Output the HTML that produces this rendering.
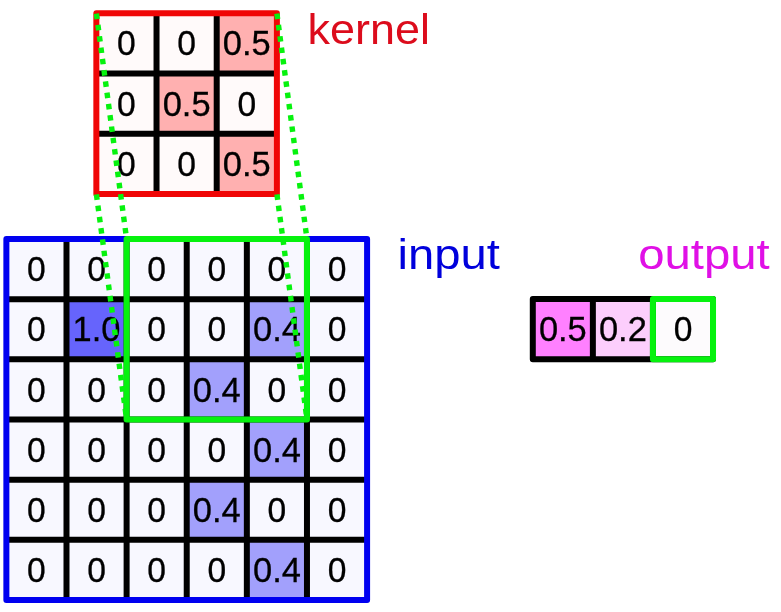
<!DOCTYPE html>
<html><head><meta charset="utf-8"><style>
html,body{margin:0;padding:0;background:#fff;width:781px;height:612px;overflow:hidden}
svg{display:block;will-change:transform}
text{font-family:"Liberation Sans",sans-serif;}
g text{stroke:#000;stroke-width:0.3px}
</style></head><body>
<svg width="781" height="612" viewBox="0 0 781 612">
<rect width="781" height="612" fill="#fff"/>
<g font-size="35" text-anchor="middle" fill="#000">
<rect x="96.35" y="13.30" width="60.18" height="60.22" fill="#fffafa"/>
<rect x="156.53" y="13.30" width="60.18" height="60.22" fill="#fffafa"/>
<rect x="216.71" y="13.30" width="60.18" height="60.22" fill="#ffb0b0"/>
<rect x="96.35" y="73.52" width="60.18" height="60.22" fill="#fffafa"/>
<rect x="156.53" y="73.52" width="60.18" height="60.22" fill="#ffb0b0"/>
<rect x="216.71" y="73.52" width="60.18" height="60.22" fill="#fffafa"/>
<rect x="96.35" y="133.74" width="60.18" height="60.22" fill="#fffafa"/>
<rect x="156.53" y="133.74" width="60.18" height="60.22" fill="#fffafa"/>
<rect x="216.71" y="133.74" width="60.18" height="60.22" fill="#ffb0b0"/>
<text transform="translate(126.44,55.48) scale(0.96,1)">0</text>
<text transform="translate(186.62,55.48) scale(0.96,1)">0</text>
<text transform="translate(246.80,55.48) scale(0.985,1)">0.5</text>
<text transform="translate(126.44,115.70) scale(0.96,1)">0</text>
<text transform="translate(186.62,115.70) scale(0.985,1)">0.5</text>
<text transform="translate(246.80,115.70) scale(0.96,1)">0</text>
<text transform="translate(126.44,175.93) scale(0.96,1)">0</text>
<text transform="translate(186.62,175.93) scale(0.96,1)">0</text>
<text transform="translate(246.80,175.93) scale(0.985,1)">0.5</text>
<line x1="156.53" y1="13.30" x2="156.53" y2="193.96" stroke="#000" stroke-width="6"/>
<line x1="216.71" y1="13.30" x2="216.71" y2="193.96" stroke="#000" stroke-width="6"/>
<line x1="96.35" y1="73.52" x2="276.89" y2="73.52" stroke="#000" stroke-width="6"/>
<line x1="96.35" y1="133.74" x2="276.89" y2="133.74" stroke="#000" stroke-width="6"/>
<rect x="96.35" y="13.30" width="180.54" height="180.66" fill="none" stroke="#f00606" stroke-width="6" stroke-linejoin="round"/>
<rect x="6.37" y="239.04" width="60.12" height="60.16" fill="#f8f8ff"/>
<rect x="66.49" y="239.04" width="60.12" height="60.16" fill="#f8f8ff"/>
<rect x="126.61" y="239.04" width="60.12" height="60.16" fill="#f8f8ff"/>
<rect x="186.73" y="239.04" width="60.12" height="60.16" fill="#f8f8ff"/>
<rect x="246.85" y="239.04" width="60.12" height="60.16" fill="#f8f8ff"/>
<rect x="306.97" y="239.04" width="60.12" height="60.16" fill="#f8f8ff"/>
<rect x="6.37" y="299.20" width="60.12" height="60.16" fill="#f8f8ff"/>
<rect x="66.49" y="299.20" width="60.12" height="60.16" fill="#6664fc"/>
<rect x="126.61" y="299.20" width="60.12" height="60.16" fill="#f8f8ff"/>
<rect x="186.73" y="299.20" width="60.12" height="60.16" fill="#f8f8ff"/>
<rect x="246.85" y="299.20" width="60.12" height="60.16" fill="#a2a0fc"/>
<rect x="306.97" y="299.20" width="60.12" height="60.16" fill="#f8f8ff"/>
<rect x="6.37" y="359.36" width="60.12" height="60.16" fill="#f8f8ff"/>
<rect x="66.49" y="359.36" width="60.12" height="60.16" fill="#f8f8ff"/>
<rect x="126.61" y="359.36" width="60.12" height="60.16" fill="#f8f8ff"/>
<rect x="186.73" y="359.36" width="60.12" height="60.16" fill="#a2a0fc"/>
<rect x="246.85" y="359.36" width="60.12" height="60.16" fill="#f8f8ff"/>
<rect x="306.97" y="359.36" width="60.12" height="60.16" fill="#f8f8ff"/>
<rect x="6.37" y="419.52" width="60.12" height="60.16" fill="#f8f8ff"/>
<rect x="66.49" y="419.52" width="60.12" height="60.16" fill="#f8f8ff"/>
<rect x="126.61" y="419.52" width="60.12" height="60.16" fill="#f8f8ff"/>
<rect x="186.73" y="419.52" width="60.12" height="60.16" fill="#f8f8ff"/>
<rect x="246.85" y="419.52" width="60.12" height="60.16" fill="#a2a0fc"/>
<rect x="306.97" y="419.52" width="60.12" height="60.16" fill="#f8f8ff"/>
<rect x="6.37" y="479.68" width="60.12" height="60.16" fill="#f8f8ff"/>
<rect x="66.49" y="479.68" width="60.12" height="60.16" fill="#f8f8ff"/>
<rect x="126.61" y="479.68" width="60.12" height="60.16" fill="#f8f8ff"/>
<rect x="186.73" y="479.68" width="60.12" height="60.16" fill="#a2a0fc"/>
<rect x="246.85" y="479.68" width="60.12" height="60.16" fill="#f8f8ff"/>
<rect x="306.97" y="479.68" width="60.12" height="60.16" fill="#f8f8ff"/>
<rect x="6.37" y="539.84" width="60.12" height="60.16" fill="#f8f8ff"/>
<rect x="66.49" y="539.84" width="60.12" height="60.16" fill="#f8f8ff"/>
<rect x="126.61" y="539.84" width="60.12" height="60.16" fill="#f8f8ff"/>
<rect x="186.73" y="539.84" width="60.12" height="60.16" fill="#f8f8ff"/>
<rect x="246.85" y="539.84" width="60.12" height="60.16" fill="#a2a0fc"/>
<rect x="306.97" y="539.84" width="60.12" height="60.16" fill="#f8f8ff"/>
<text transform="translate(36.43,281.19) scale(0.96,1)">0</text>
<text transform="translate(96.55,281.19) scale(0.96,1)">0</text>
<text transform="translate(156.67,281.19) scale(0.96,1)">0</text>
<text transform="translate(216.79,281.19) scale(0.96,1)">0</text>
<text transform="translate(276.91,281.19) scale(0.96,1)">0</text>
<text transform="translate(337.03,281.19) scale(0.96,1)">0</text>
<text transform="translate(36.43,341.35) scale(0.96,1)">0</text>
<text transform="translate(96.55,341.35) scale(0.985,1)">1.0</text>
<text transform="translate(156.67,341.35) scale(0.96,1)">0</text>
<text transform="translate(216.79,341.35) scale(0.96,1)">0</text>
<text transform="translate(276.91,341.35) scale(0.985,1)">0.4</text>
<text transform="translate(337.03,341.35) scale(0.96,1)">0</text>
<text transform="translate(36.43,401.51) scale(0.96,1)">0</text>
<text transform="translate(96.55,401.51) scale(0.96,1)">0</text>
<text transform="translate(156.67,401.51) scale(0.96,1)">0</text>
<text transform="translate(216.79,401.51) scale(0.985,1)">0.4</text>
<text transform="translate(276.91,401.51) scale(0.96,1)">0</text>
<text transform="translate(337.03,401.51) scale(0.96,1)">0</text>
<text transform="translate(36.43,461.68) scale(0.96,1)">0</text>
<text transform="translate(96.55,461.68) scale(0.96,1)">0</text>
<text transform="translate(156.67,461.68) scale(0.96,1)">0</text>
<text transform="translate(216.79,461.68) scale(0.96,1)">0</text>
<text transform="translate(276.91,461.68) scale(0.985,1)">0.4</text>
<text transform="translate(337.03,461.68) scale(0.96,1)">0</text>
<text transform="translate(36.43,521.84) scale(0.96,1)">0</text>
<text transform="translate(96.55,521.84) scale(0.96,1)">0</text>
<text transform="translate(156.67,521.84) scale(0.96,1)">0</text>
<text transform="translate(216.79,521.84) scale(0.985,1)">0.4</text>
<text transform="translate(276.91,521.84) scale(0.96,1)">0</text>
<text transform="translate(337.03,521.84) scale(0.96,1)">0</text>
<text transform="translate(36.43,582.00) scale(0.96,1)">0</text>
<text transform="translate(96.55,582.00) scale(0.96,1)">0</text>
<text transform="translate(156.67,582.00) scale(0.96,1)">0</text>
<text transform="translate(216.79,582.00) scale(0.96,1)">0</text>
<text transform="translate(276.91,582.00) scale(0.985,1)">0.4</text>
<text transform="translate(337.03,582.00) scale(0.96,1)">0</text>
<line x1="66.49" y1="239.04" x2="66.49" y2="600.00" stroke="#000" stroke-width="6"/>
<line x1="126.61" y1="239.04" x2="126.61" y2="600.00" stroke="#000" stroke-width="6"/>
<line x1="186.73" y1="239.04" x2="186.73" y2="600.00" stroke="#000" stroke-width="6"/>
<line x1="246.85" y1="239.04" x2="246.85" y2="600.00" stroke="#000" stroke-width="6"/>
<line x1="306.97" y1="239.04" x2="306.97" y2="600.00" stroke="#000" stroke-width="6"/>
<line x1="6.37" y1="299.20" x2="367.09" y2="299.20" stroke="#000" stroke-width="6"/>
<line x1="6.37" y1="359.36" x2="367.09" y2="359.36" stroke="#000" stroke-width="6"/>
<line x1="6.37" y1="419.52" x2="367.09" y2="419.52" stroke="#000" stroke-width="6"/>
<line x1="6.37" y1="479.68" x2="367.09" y2="479.68" stroke="#000" stroke-width="6"/>
<line x1="6.37" y1="539.84" x2="367.09" y2="539.84" stroke="#000" stroke-width="6"/>
<rect x="6.37" y="239.04" width="360.72" height="360.96" fill="none" stroke="#0000f0" stroke-width="6" stroke-linejoin="round"/>
<rect x="532.80" y="299.10" width="60.07" height="60.15" fill="#ff80ff"/>
<rect x="592.87" y="299.10" width="60.07" height="60.15" fill="#fccefc"/>
<rect x="652.94" y="299.10" width="60.07" height="60.15" fill="#fdfbfd"/>
<text transform="translate(562.83,341.25) scale(0.985,1)">0.5</text>
<text transform="translate(622.90,341.25) scale(0.985,1)">0.2</text>
<text transform="translate(682.97,341.25) scale(0.96,1)">0</text>
<line x1="592.87" y1="299.10" x2="592.87" y2="359.25" stroke="#000" stroke-width="6"/>
<line x1="652.94" y1="299.10" x2="652.94" y2="359.25" stroke="#000" stroke-width="6"/>
<rect x="532.80" y="299.10" width="180.21" height="60.15" fill="none" stroke="#000000" stroke-width="6" stroke-linejoin="round"/>
</g>
<rect x="652.94" y="299.10" width="60.07" height="60.15" fill="none" stroke="#06f20e" stroke-width="6" stroke-linejoin="round"/>
<rect x="126.61" y="239.04" width="180.36" height="180.48" fill="none" stroke="#06f20e" stroke-width="6" stroke-linejoin="round"/>
<line x1="96.35" y1="13.30" x2="126.61" y2="239.04" stroke="#06f20e" stroke-width="5.4" stroke-linecap="butt" stroke-dasharray="5.5 5.88" stroke-dashoffset="-0.4"/>
<line x1="96.35" y1="193.96" x2="126.61" y2="419.52" stroke="#06f20e" stroke-width="5.4" stroke-linecap="butt" stroke-dasharray="5.5 5.88" stroke-dashoffset="-0.4"/>
<line x1="276.89" y1="13.30" x2="306.97" y2="239.04" stroke="#06f20e" stroke-width="5.4" stroke-linecap="butt" stroke-dasharray="5.5 5.88" stroke-dashoffset="-0.4"/>
<line x1="276.89" y1="193.96" x2="306.97" y2="419.52" stroke="#06f20e" stroke-width="5.4" stroke-linecap="butt" stroke-dasharray="5.5 5.88" stroke-dashoffset="-0.4"/>

<text transform="translate(307.55,43.8) scale(1.058,1)" x="0" y="0" font-size="42.5" fill="#dc0c1c">kernel</text>
<text transform="translate(397.4,269.0) scale(1.111,1)" x="0" y="0" font-size="42.5" fill="#0000dc">input</text>
<text transform="translate(638.2,269.0) scale(1.113,1)" x="0" y="0" font-size="42.5" fill="#e010e6">output</text>

</svg>
</body></html>
